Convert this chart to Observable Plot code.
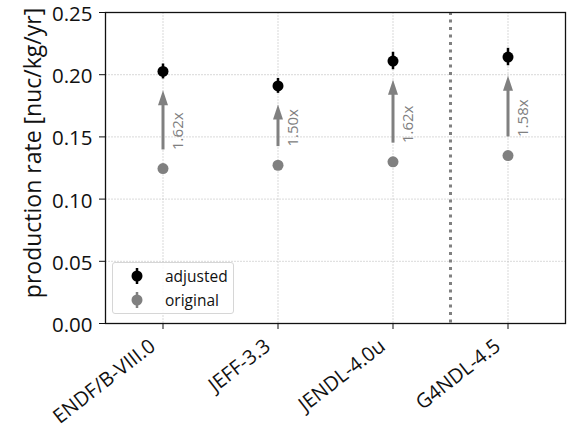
<!DOCTYPE html>
<html>
<head>
<meta charset="utf-8">
<script src="https://cdn.jsdelivr.net/npm/d3@7"></script>
<script src="https://cdn.jsdelivr.net/npm/@observablehq/plot@0.6"></script>
<style>
  html, body { margin: 0; padding: 0; background: #fff; }
  #wrap { position: relative; width: 567px; height: 429px; font-family: "Open Sans", sans-serif; }
  #legend { position: absolute; left: 112px; top: 262px; width: 122px; height: 52px;
    border: 1px solid #d6d6d6; border-radius: 3px; background: rgba(255,255,255,0.85); box-sizing: border-box; }
  .row { position: absolute; left: 0; height: 22px; display: flex; align-items: center; font-size: 15.5px; color: #111; }
  .row svg { position: absolute; left: 14px; }
  .row span { position: absolute; left: 52px; white-space: nowrap; line-height: 22px; }
</style>
</head>
<body>
<div id="wrap">
  <div id="chart"></div>
  <div id="legend">
    <div class="row" style="top:2px;"><svg width="20" height="22"><line x1="10" x2="10" y1="3" y2="19" stroke="#000" stroke-width="2.5"/><circle cx="10" cy="11" r="5.5" fill="#000"/></svg><span>adjusted</span></div>
    <div class="row" style="top:26px;"><svg width="20" height="22"><line x1="10" x2="10" y1="3" y2="19" stroke="#808080" stroke-width="2.5"/><circle cx="10" cy="11" r="5.5" fill="#808080"/></svg><span>original</span></div>
  </div>
</div>
<script>
const libraries = ["ENDF/B-VIII.0", "JEFF-3.3", "JENDL-4.0u", "G4NDL-4.5"];
const positions = [0, 1, 2, 3];
const adjusted = [0.2026, 0.1910, 0.2110, 0.2142];
const adjustedErr = [0.006, 0.006, 0.007, 0.007];
const original = [0.1245, 0.1272, 0.1300, 0.1350];
const originalErr = [0.003, 0.003, 0.003, 0.003];
const ratios = ["1.62x", "1.50x", "1.62x", "1.58x"];
const separator = [2.5];
const yTicks = [0, 0.05, 0.10, 0.15, 0.20, 0.25];
const yLabel = "production rate [nuc/kg/yr]";
const arrowGap = 0.015;

const rows = positions.map((p, i) => ({
  x: p, name: libraries[i], adj: adjusted[i], adjErr: adjustedErr[i],
  orig: original[i], origErr: originalErr[i], ratio: ratios[i],
  a0: original[i] + arrowGap, a1: adjusted[i] - arrowGap
}));

const arrowHead = {
  draw(ctx) {
    ctx.moveTo(0, 0);
    ctx.lineTo(-5, 15);
    ctx.lineTo(5, 15);
    ctx.closePath();
  }
};

const gray = "#808080";
const chart = Plot.plot({
  width: 567,
  height: 429,
  marginLeft: 105,
  marginRight: 2,
  marginTop: 12,
  marginBottom: 106,
  style: { fontFamily: "Open Sans, sans-serif", background: "white", color: "#111" },
  x: { domain: [-0.5, 3.5] },
  y: { domain: [0, 0.25] },
  marks: [
    Plot.gridY(yTicks, { stroke: "#bbbbbb", strokeOpacity: 0.7, strokeWidth: 0.8, strokeDasharray: "2,1" }),
    Plot.gridX(positions, { stroke: "#bbbbbb", strokeOpacity: 0.7, strokeWidth: 0.8, strokeDasharray: "2,1" }),
    Plot.ruleX(separator, { stroke: gray, strokeWidth: 3, strokeDasharray: "3,4.5" }),
    Plot.ruleX(rows, { x: "x", y1: "a0", y2: d => d.a1 - 0.008, stroke: gray, strokeWidth: 3 }),
    Plot.dot(rows, { x: "x", y: "a1", symbol: arrowHead, fill: gray, stroke: "none" }),
    Plot.text(rows, { x: "x", y: "a0", text: "ratio", rotate: -90, textAnchor: "start", dx: 15, fill: gray, fontSize: 15 }),
    Plot.ruleX(rows, { x: "x", y1: d => d.orig - d.origErr, y2: d => d.orig + d.origErr, stroke: gray, strokeWidth: 2.5 }),
    Plot.dot(rows, { x: "x", y: "orig", r: 5.5, fill: gray, stroke: "none" }),
    Plot.ruleX(rows, { x: "x", y1: d => d.adj - d.adjErr, y2: d => d.adj + d.adjErr, stroke: "black", strokeWidth: 2.5 }),
    Plot.dot(rows, { x: "x", y: "adj", r: 5.5, fill: "black", stroke: "none" }),
    Plot.frame({ stroke: "#111", strokeWidth: 1.3 }),
    Plot.axisY({ ticks: yTicks, tickSize: 6, text: null, label: null, stroke: "#111" }),
    Plot.axisY({ ticks: yTicks, tickFormat: d3.format(".2f"), fontSize: 20.5, tickSize: 0, tickPadding: 13, dy: 2, label: null, fill: "#111" }),
    Plot.text([yLabel], { frameAnchor: "left", text: d => d, rotate: -90, textAnchor: "middle", dx: -72, dy: -15, fontSize: 23, fill: "#111" }),
    Plot.axisX({ ticks: positions, tickSize: 6, stroke: "#111", text: null, label: null }),
    Plot.text(positions, { x: d => d, frameAnchor: "bottom", dx: -15, dy: 14, text: i => libraries[i], rotate: -38, textAnchor: "end", lineAnchor: "top", fontSize: 20, fill: "#111" })
  ]
});
document.getElementById("chart").appendChild(chart);
</script>
</body>
</html>
